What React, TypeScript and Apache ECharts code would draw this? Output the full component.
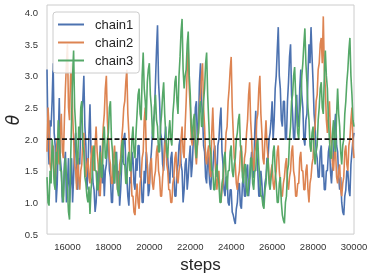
import React, { useEffect, useRef } from "react";
import * as echarts from "echarts";

const chain1: number[] = [
  3.1, 2.0, 1.6, 2.3, 2.2, 2.6, 3.2, 2.1, 1.9, 1.0, 1.3, 2.0, 2.65, 1.7, 1.5, 1.0, 1.1, 1.6, 1.8, 1.0,
  1.3, 1.7, 1.0, 1.3, 1.7, 1.0, 1.4, 1.9, 2.1, 1.3, 1.2, 1.7, 1.6, 2.2, 2.4, 2.6, 3.0, 2.2, 1.9, 1.2,
  1.5, 2.1, 2.55, 1.8, 1.7, 1.3, 1.2, 0.85, 1.0, 1.4, 1.5, 1.1, 1.9, 1.5, 1.3, 1.6, 1.1, 1.5, 1.6, 1.9,
  2.0, 1.5, 1.4, 1.0, 1.0, 1.6, 1.3, 1.7, 1.8, 1.2, 1.5, 0.95, 1.2, 1.6, 1.7, 2.0, 2.1, 1.6, 1.4, 1.1,
  0.95, 1.4, 1.3, 1.8, 1.7, 1.3, 1.2, 1.7, 1.5, 1.9, 1.9, 1.4, 1.4, 1.0, 1.0, 1.5, 1.3, 1.8, 1.6, 1.1,
  1.2, 1.6, 1.8, 2.1, 2.3, 2.4, 2.9, 3.4, 3.8, 2.9, 2.6, 2.1, 2.0, 1.6, 1.5, 2.0, 2.2, 1.7, 1.7, 1.4,
  1.3, 1.7, 1.8, 1.4, 1.4, 1.1, 1.1, 1.5, 1.6, 1.9, 2.0, 1.6, 1.5, 1.0, 1.2, 1.6, 1.7, 1.2, 1.4, 1.7,
  1.9, 1.4, 1.6, 2.0, 2.1, 2.5, 2.6, 1.9, 2.2, 2.9, 3.2, 2.6, 2.4, 1.9, 1.8, 1.4, 1.3, 1.8, 1.6, 1.3,
  1.2, 1.5, 1.5, 1.8, 1.9, 1.5, 1.4, 1.9, 2.0, 2.3, 2.5, 1.8, 1.6, 1.2, 1.1, 1.4, 1.4, 1.0, 0.95, 1.2,
  1.2, 0.85, 0.8, 0.72, 0.66, 0.9, 1.0, 1.3, 1.3, 0.95, 0.9, 1.3, 1.4, 1.1, 1.1, 1.5, 1.6, 1.1, 1.3, 1.6,
  1.8, 1.4, 1.4, 2.1, 2.45, 1.8, 1.5, 1.1, 1.1, 1.5, 1.3, 1.0, 1.0, 1.3, 1.4, 1.7, 1.7, 2.0, 2.1, 2.3,
  2.6, 2.0, 2.3, 2.8, 3.0, 3.4, 3.77, 3.0, 2.8, 2.3, 2.2, 2.6, 2.6, 2.0, 2.0, 2.6, 2.9, 3.3, 3.5, 2.7,
  2.4, 2.0, 2.0, 2.5, 2.7, 2.2, 2.2, 2.8, 3.1, 2.7, 2.5, 2.0, 1.9, 2.3, 2.4, 3.0, 3.5, 3.2, 3.77, 3.3,
  2.9, 2.4, 2.2, 1.8, 1.7, 1.4, 1.4, 1.8, 1.9, 1.4, 1.6, 1.2, 1.2, 1.5, 1.5, 1.8, 1.9, 1.5, 1.3, 1.6,
  1.7, 2.2, 2.4, 1.9, 1.8, 1.4, 1.2, 1.4, 1.0, 0.85, 0.8, 1.1, 1.2, 1.5, 1.5, 1.2, 1.1, 1.6, 1.8, 2.0, 2.1,
];

const chain2: number[] = [
  1.8, 2.5, 2.2, 1.6, 1.5, 1.7, 1.9, 1.4, 1.3, 1.8, 2.0, 1.7, 1.6, 2.1, 2.4, 1.8, 1.7, 2.3, 2.8, 3.2,
  3.5, 2.5, 2.3, 3.0, 3.2, 2.4, 2.0, 1.6, 1.5, 1.2, 1.8, 1.4, 1.2, 1.5, 1.6, 2.0, 2.1, 1.6, 1.4, 1.6,
  1.7, 1.4, 1.3, 1.7, 1.9, 1.6, 1.5, 1.9, 2.2, 1.8, 1.6, 1.2, 1.1, 1.5, 1.8, 2.2, 2.4, 2.8, 3.0, 2.3,
  2.0, 1.7, 1.6, 1.3, 1.3, 1.7, 1.9, 1.6, 1.5, 1.2, 1.2, 1.6, 1.7, 2.0, 2.2, 2.5, 2.6, 2.9, 3.1, 2.4,
  2.1, 1.6, 1.5, 1.1, 1.1, 0.85, 0.8, 1.1, 1.3, 1.0, 0.9, 1.3, 1.4, 1.7, 1.8, 2.3, 2.5, 1.8, 1.6, 1.3,
  1.3, 1.6, 1.7, 1.3, 1.2, 1.4, 1.5, 1.8, 1.9, 1.5, 1.4, 1.1, 1.1, 1.4, 1.6, 1.9, 2.0, 1.6, 1.5, 1.2,
  1.2, 1.0, 1.0, 1.3, 1.4, 1.7, 1.8, 1.4, 1.3, 1.5, 1.6, 2.0, 2.2, 1.8, 1.7, 2.2, 2.6, 3.1, 3.45, 2.8,
  2.5, 2.0, 1.9, 2.2, 2.3, 1.8, 1.6, 1.9, 2.1, 2.5, 2.7, 3.0, 3.2, 2.5, 2.2, 1.7, 1.6, 1.8, 1.9, 1.5,
  1.4, 2.1, 2.5, 2.0, 1.8, 1.4, 1.2, 1.4, 1.5, 1.1, 1.0, 1.2, 1.3, 1.6, 1.7, 2.1, 2.2, 2.6, 2.8, 3.1,
  3.3, 2.5, 2.1, 1.7, 1.6, 1.3, 1.2, 1.4, 1.5, 1.8, 1.9, 1.5, 1.4, 1.7, 1.8, 2.1, 2.3, 2.7, 2.9, 2.3,
  2.0, 1.6, 1.5, 1.8, 1.9, 2.3, 2.4, 2.8, 3.0, 2.4, 2.1, 1.7, 1.6, 2.0, 2.3, 1.9, 1.7, 1.4, 1.3, 1.5,
  1.6, 1.3, 1.2, 1.4, 1.5, 1.8, 1.9, 1.5, 1.3, 1.1, 1.1, 1.3, 1.4, 1.6, 1.7, 1.3, 1.2, 1.4, 1.5, 1.8,
  1.9, 1.5, 1.4, 1.1, 1.1, 1.3, 1.3, 1.7, 1.8, 1.5, 1.5, 1.2, 1.2, 1.5, 1.6, 1.2, 1.0, 1.3, 1.4, 1.6,
  1.7, 2.1, 2.2, 2.6, 2.7, 3.1, 3.2, 3.5, 3.6, 3.2, 3.94, 3.1, 2.8, 2.3, 2.1, 2.4, 2.6, 2.1, 1.9, 1.6,
  1.5, 1.8, 1.8, 1.4, 1.3, 1.5, 1.6, 1.2, 1.1, 1.3, 1.4, 1.8, 1.9, 1.6, 1.5, 1.9, 2.0, 2.3, 2.5, 1.9, 1.7,
];

const chain3: number[] = [
  1.4, 1.0, 0.95, 1.5, 1.3, 2.0, 1.8, 1.3, 1.2, 1.8, 1.6, 2.3, 2.1, 1.5, 1.5, 1.1, 1.0, 1.5, 1.7, 1.4,
  1.2, 0.85, 0.73, 1.6, 2.3, 3.0, 3.4, 2.5, 2.2, 1.7, 1.6, 2.2, 2.0, 2.5, 2.6, 1.9, 1.8, 1.4, 1.3, 1.1,
  1.0, 1.25, 0.82, 1.2, 1.4, 1.8, 1.9, 1.5, 1.5, 1.2, 1.2, 1.6, 1.8, 1.4, 1.4, 2.0, 2.2, 1.7, 1.7, 2.0,
  2.1, 2.5, 2.6, 2.0, 1.8, 1.4, 1.3, 1.8, 1.6, 1.2, 1.1, 1.4, 1.5, 1.9, 2.0, 1.6, 1.6, 1.3, 1.3, 1.7,
  1.8, 1.5, 1.5, 2.0, 2.2, 1.8, 1.7, 2.1, 2.4, 2.7, 2.8, 2.4, 2.3, 3.0, 3.37, 2.8, 2.6, 2.3, 2.9, 3.1,
  3.2, 2.7, 2.5, 2.1, 2.0, 2.5, 2.7, 2.3, 2.2, 1.8, 1.8, 2.2, 2.4, 2.7, 2.9, 2.4, 2.1, 1.8, 1.7, 2.1,
  2.3, 2.0, 1.9, 2.4, 2.6, 2.9, 3.0, 2.6, 2.4, 3.0, 3.3, 3.7, 3.9, 3.1, 2.8, 3.0, 3.1, 3.5, 3.7, 3.0,
  2.7, 2.2, 2.0, 2.3, 2.4, 1.9, 1.7, 2.0, 2.1, 2.5, 2.6, 2.2, 2.2, 2.6, 2.8, 3.2, 3.37, 2.7, 2.3, 1.9,
  1.8, 1.5, 1.5, 1.2, 1.2, 1.5, 1.6, 1.4, 1.3, 1.0, 1.0, 1.3, 1.4, 1.7, 1.8, 1.4, 1.2, 1.5, 1.5, 1.8,
  1.9, 1.5, 1.4, 1.6, 1.7, 2.0, 2.1, 2.3, 2.4, 1.9, 1.8, 1.4, 1.3, 1.6, 1.6, 1.2, 1.1, 1.3, 1.4, 1.7,
  1.7, 1.3, 1.2, 1.5, 1.5, 1.9, 2.0, 1.6, 1.4, 1.1, 1.1, 0.95, 0.9, 1.2, 1.3, 1.6, 1.7, 1.3, 1.2, 1.4,
  1.5, 1.8, 1.9, 1.5, 1.3, 1.0, 1.0, 1.3, 1.4, 1.0, 0.8, 0.72, 0.67, 1.0, 1.1, 1.5, 1.6, 2.0, 2.2, 2.6,
  2.7, 3.0, 3.14, 2.7, 2.4, 2.1, 2.0, 2.4, 2.6, 3.0, 3.2, 3.5, 3.75, 3.2, 2.9, 2.5, 2.3, 1.9, 1.8, 2.1,
  2.2, 1.8, 1.6, 1.8, 1.9, 2.3, 2.5, 2.8, 2.9, 2.5, 2.4, 3.0, 3.4, 3.0, 2.8, 2.3, 2.0, 1.7, 1.7, 2.1,
  2.3, 1.9, 1.8, 2.4, 2.8, 2.4, 2.2, 1.8, 1.6, 1.9, 2.0, 2.4, 2.6, 2.9, 3.1, 3.4, 3.6, 3.0, 2.7, 2.3, 2.2,
];

const seriesNames = ["chain1", "chain2", "chain3"];
const seriesColors = ["#4C72B0", "#DD8452", "#55A868"];
const chains = [chain1, chain2, chain3];
const referenceValue = 2.0;
const xMin = 15000;
const xMax = 30000;
const yMin = 0.5;
const yMax = 4.12;
const xTickLabels = [16000, 18000, 20000, 22000, 24000, 26000, 28000, 30000];

const FONT = "'Liberation Sans', Arial, sans-serif";

export default function App() {
  const ref = useRef<HTMLDivElement>(null);
  useEffect(() => {
    if (!ref.current) return;
    const chart = echarts.init(ref.current, undefined, { renderer: "svg" });
    const series: any[] = chains.map((vals, k) => ({
      name: seriesNames[k],
      type: "line",
      data: vals.map((v, i) => [xMin + (i * (xMax - xMin)) / (vals.length - 1), v]),
      showSymbol: false,
      symbol: "none",
      lineStyle: { color: seriesColors[k], width: 1.6 },
      itemStyle: { color: seriesColors[k] },
      z: 2 + k,
    }));
    series.push({
      name: "ref",
      type: "line",
      data: [
        [xMin, referenceValue],
        [xMax, referenceValue],
      ],
      symbol: "none",
      lineStyle: { color: "#111", width: 1.6, type: [5, 2.5] },
      z: 10,
      silent: true,
    });
    chart.setOption({
      animation: false,
      grid: {
        left: 47,
        right: 20,
        top: 5,
        bottom: 37,
        show: true,
        borderColor: "#cccccc",
        borderWidth: 1,
        backgroundColor: "#fff",
      },
      legend: {
        data: seriesNames.map((n) => ({ name: n })),
        orient: "vertical",
        left: 53,
        top: 12,
        icon: "rect",
        itemWidth: 26,
        itemHeight: 2,
        itemGap: 5,
        padding: [6, 6, 6, 5],
        backgroundColor: "rgba(255,255,255,0.85)",
        borderColor: "#cccccc",
        borderWidth: 1,
        borderRadius: 3,
        textStyle: {
          fontFamily: FONT,
          fontSize: 13,
          color: "#262626",
          padding: [0, 0, 0, 6],
          lineHeight: 13,
        },
      },
      xAxis: {
        type: "value",
        min: xMin,
        max: xMax,
        interval: 1000,
        axisLine: { show: false },
        axisTick: { show: false },
        splitLine: { show: false },
        axisLabel: {
          fontFamily: FONT,
          fontSize: 9.5,
          color: "#333",
          margin: 7,
          formatter: (v: number) => (xTickLabels.indexOf(v) >= 0 ? String(v) : ""),
        },
        name: "steps",
        nameLocation: "middle",
        nameGap: 17,
        nameTextStyle: { fontFamily: FONT, fontSize: 17, color: "#262626" },
      },
      yAxis: {
        type: "value",
        min: yMin,
        max: yMax,
        interval: 0.5,
        axisLine: { show: false },
        axisTick: { show: false },
        splitLine: { show: false },
        axisLabel: {
          fontFamily: FONT,
          fontSize: 9.5,
          color: "#333",
          margin: 9,
          formatter: (v: number) =>
            Math.abs(v * 2 - Math.round(v * 2)) < 1e-6 ? v.toFixed(1) : "",
        },
      },
      graphic: [
        {
          type: "text",
          x: 13,
          y: 120,
          rotation: Math.PI / 2,
          style: {
            text: "θ",
            fontFamily: "'DejaVu Sans', sans-serif",
            fontStyle: "italic",
            fontSize: 17,
            fill: "#262626",
            align: "center",
            verticalAlign: "middle",
          },
        },
      ],
      series,
    });
    return () => chart.dispose();
  }, []);
  return (
    <div
      ref={ref}
      style={{ position: "fixed", left: 0, top: 0, width: 374, height: 278 }}
    />
  );
}
